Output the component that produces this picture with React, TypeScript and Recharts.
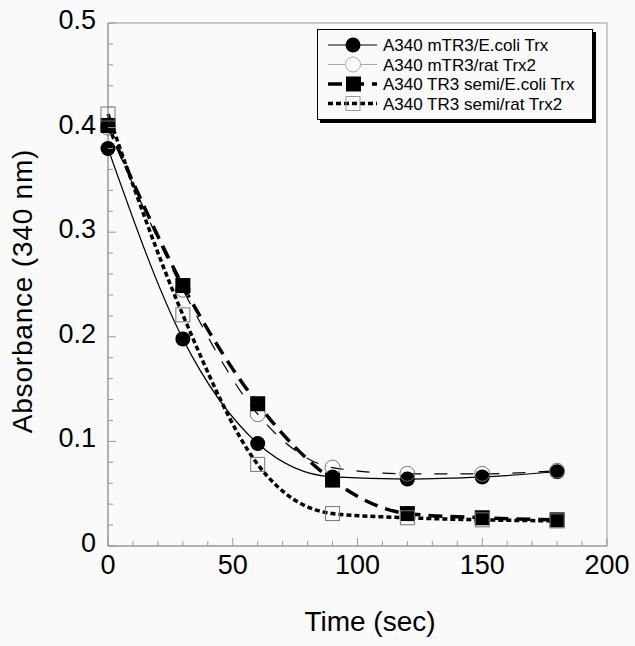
import React from 'react';
import { ComposedChart, Line, XAxis, YAxis, ReferenceArea } from 'recharts';

const TIME_SEC = [0, 30, 60, 90, 120, 150, 180];
const MTR3_ECOLI = [0.38, 0.198, 0.098, 0.066, 0.064, 0.066, 0.071];
const MTR3_RAT = [0.4, 0.245, 0.126, 0.075, 0.069, 0.069, 0.072];
const TR3_ECOLI = [0.402, 0.249, 0.136, 0.063, 0.031, 0.027, 0.025];
const TR3_RAT = [0.413, 0.221, 0.078, 0.031, 0.027, 0.025, 0.024];

const X_TICKS = [0, 10, 20, 30, 40, 50, 60, 70, 80, 90, 100, 110, 120, 130, 140, 150, 160, 170, 180, 190, 200];
const Y_TICKS = [0, 0.02, 0.04, 0.06, 0.08, 0.1, 0.12, 0.14, 0.16, 0.18, 0.2, 0.22, 0.24, 0.26, 0.28, 0.3, 0.32, 0.34, 0.36, 0.38, 0.4, 0.42, 0.44, 0.46, 0.48, 0.5];

const LEGEND_NAMES = ['A340 mTR3/E.coli Trx', 'A340 mTR3/rat Trx2', 'A340 TR3 semi/E.coli Trx', 'A340 TR3 semi/rat Trx2'];

const data = TIME_SEC.map((t, i) => ({
  t,
  mEcoli: MTR3_ECOLI[i],
  mRat: MTR3_RAT[i],
  sEcoli: TR3_ECOLI[i],
  sRat: TR3_RAT[i],
}));

const FONT = '"Liberation Sans", Arial, Helvetica, sans-serif';
const FRAME = '#999';
const BG = '#fafafa';

const FilledCircle = (p: any) => <circle key={p.key} cx={p.cx} cy={p.cy} r={7.5} fill="#000" />;
const OpenCircle = (p: any) => <circle key={p.key} cx={p.cx} cy={p.cy} r={7.5} fill="none" stroke="#777" strokeWidth={1} />;
const FilledSquare = (p: any) => <rect key={p.key} x={p.cx - 7.5} y={p.cy - 7.5} width={15} height={15} fill="#000" />;
const OpenSquare = (p: any) => (
  <rect key={p.key} x={p.cx - 7} y={p.cy - 7} width={14} height={14} fill="none" stroke="#777" strokeWidth={1} />
);

const XTick = (props: any) => {
  const { x, y, payload } = props;
  const v = payload.value;
  const major = v % 50 === 0;
  return (
    <g>
      <line x1={x} y1={y} x2={x} y2={y - (major ? 8 : 5)} stroke={FRAME} />
      {major && (
        <text x={x} y={y + 28} textAnchor="middle" fontSize={27} fontFamily={FONT} fill="#000">
          {v}
        </text>
      )}
    </g>
  );
};

const YTick = (props: any) => {
  const { x, y, payload } = props;
  const v = payload.value;
  const major = Math.abs(v * 10 - Math.round(v * 10)) < 1e-6;
  return (
    <g>
      <line x1={x} y1={y} x2={x + (major ? 8 : 5)} y2={y} stroke={FRAME} />
      {major && (
        <text x={x - 12} y={y + 6} textAnchor="end" fontSize={27} fontFamily={FONT} fill="#000">
          {v === 0 ? '0' : v.toFixed(1)}
        </text>
      )}
    </g>
  );
};

// legend samples: line style + marker, in series order
const legendRows = [
  { stroke: '#000', width: 1, dash: undefined, marker: 'fc' },
  { stroke: '#aaa', width: 1, dash: undefined, marker: 'oc' },
  { stroke: '#000', width: 3.5, dash: '14 8', marker: 'fs' },
  { stroke: '#000', width: 3.5, dash: '5 3', marker: 'os' },
];

const LegendBox = () => (
  <div
    style={{
      position: 'absolute',
      left: 317,
      top: 29,
      width: 274,
      height: 89,
      border: '1.5px solid #000',
      background: BG,
      boxShadow: '3px 3px 0 #000',
    }}
  >
    <svg width={274} height={89} style={{ display: 'block' }}>
      {legendRows.map((r, i) => {
        const cy = 15 + i * 19.5;
        return (
          <g key={i}>
            <line x1={10} x2={59} y1={cy} y2={cy} stroke={r.stroke} strokeWidth={r.width} strokeDasharray={r.dash} />
            {r.marker === 'fc' && <circle cx={35} cy={cy} r={7.5} fill="#000" />}
            {r.marker === 'oc' && <circle cx={35} cy={cy} r={7.5} fill={BG} stroke="#aaa" />}
            {r.marker === 'fs' && <rect x={28} y={cy - 7.5} width={15} height={15} fill="#000" />}
            {r.marker === 'os' && <rect x={28} y={cy - 7} width={14} height={14} fill="none" stroke="#999" />}
            <text x={65} y={cy + 6} fontSize={17} fontFamily={FONT} fill="#000">
              {LEGEND_NAMES[i]}
            </text>
          </g>
        );
      })}
    </svg>
  </div>
);

export default function App() {
  return (
    <div style={{ position: 'fixed', left: 0, top: 0, width: 635, height: 646, background: BG }}>
      <ComposedChart width={635} height={646} data={data} margin={{ top: 23, right: 28, left: 0, bottom: 0 }}>
        <XAxis
          dataKey="t"
          type="number"
          domain={[0, 200]}
          ticks={X_TICKS}
          interval={0}
          tick={<XTick />}
          tickLine={false}
          tickSize={0}
          tickMargin={0}
          height={100}
          axisLine={{ stroke: FRAME }}
          label={{
            content: (p: any) => (
              <text x={370} y={p.viewBox.y + 85} textAnchor="middle" fontSize={28} fontFamily={FONT} fill="#000">
                Time (sec)
              </text>
            ),
          }}
        />
        <YAxis
          type="number"
          domain={[0, 0.5]}
          ticks={Y_TICKS}
          interval={0}
          tick={<YTick />}
          tickLine={false}
          tickSize={0}
          tickMargin={0}
          width={108}
          axisLine={{ stroke: FRAME }}
          label={{
            content: () => (
              <text x={32} y={291} transform="rotate(-90 32 291)" textAnchor="middle" fontSize={28} letterSpacing={0.8} fontFamily={FONT} fill="#000">
                Absorbance (340 nm)
              </text>
            ),
          }}
        />
        <ReferenceArea x1={0} x2={200} y1={0} y2={0.5} fill="none" stroke={FRAME} strokeWidth={1} />
        <Line type="monotone" dataKey="mEcoli" stroke="#000" strokeWidth={1.2} dot={FilledCircle} activeDot={false} isAnimationActive={false} />
        <Line type="monotone" dataKey="mRat" stroke="#000" strokeWidth={1.2} strokeDasharray="13 13" dot={OpenCircle} activeDot={false} isAnimationActive={false} />
        <Line type="monotone" dataKey="sEcoli" stroke="#000" strokeWidth={3.5} strokeDasharray="14 8" dot={FilledSquare} activeDot={false} isAnimationActive={false} />
        <Line type="monotone" dataKey="sRat" stroke="#000" strokeWidth={3.5} strokeDasharray="5 3" dot={OpenSquare} activeDot={false} isAnimationActive={false} />
      </ComposedChart>
      <LegendBox />
    </div>
  );
}
